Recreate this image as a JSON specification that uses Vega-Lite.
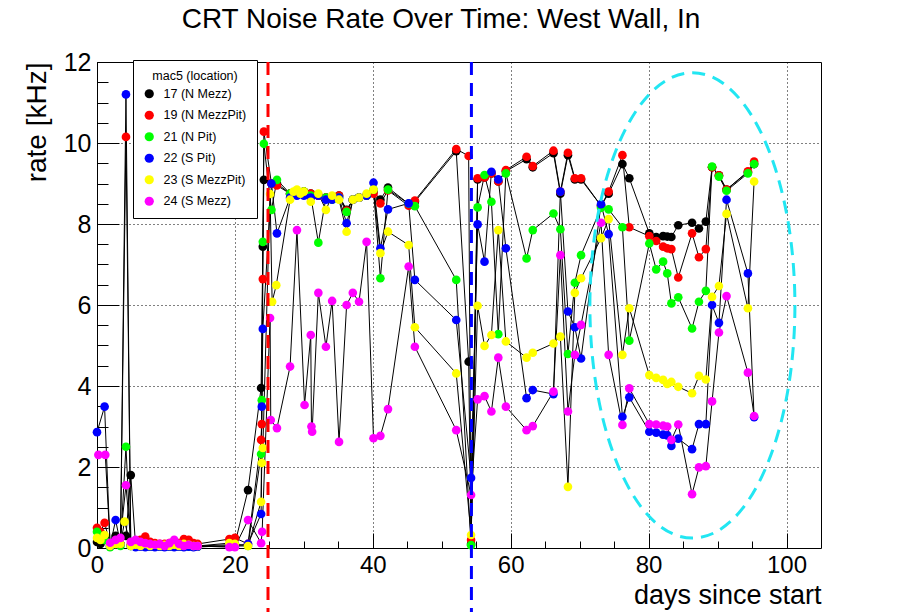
{
"$schema": "https://vega.github.io/schema/vega-lite/v6.json",
"width": 724, "height": 486,
"autosize": {"type": "none"},
"padding": {"left": 97, "top": 62, "right": 81, "bottom": 64},
"background": "white",
"title": {"text": "CRT Noise Rate Over Time: West Wall, In", "font": "Liberation Sans", "fontSize": 28, "fontWeight": "normal", "color": "black", "frame": "group", "anchor": "middle", "dx": -18, "offset": -6, "baseline": "alphabetic"},
"config": {"view": {"stroke": "black", "strokeWidth": 1}, "axis": {"tickColor": "black", "tickWidth": 1}},
"datasets": {
"names": [{"s":17,"mac5":"17 (N Mezz)"},{"s":19,"mac5":"19 (N MezzPit)"},{"s":21,"mac5":"21 (N Pit)"},{"s":22,"mac5":"22 (S Pit)"},{"s":23,"mac5":"23 (S MezzPit)"},{"s":24,"mac5":"24 (S Mezz)"}],
"pts": [
{"d":0,"s":17,"r":0.15},{"d":0.5,"s":17,"r":0.1},{"d":1.1,"s":17,"r":0.2},{"d":1.9,"s":17,"r":0.05},{"d":2.7,"s":17,"r":0.3},{"d":3.4,"s":17,"r":0.1},{"d":4.2,"s":17,"r":0.3},{"d":4.9,"s":17,"r":1.8},{"d":5.6,"s":17,"r":0.05},{"d":6.3,"s":17,"r":0.05},{"d":7.0,"s":17,"r":0.08},{"d":7.7,"s":17,"r":0.05},{"d":8.4,"s":17,"r":0.05},{"d":9.1,"s":17,"r":0.05},{"d":9.8,"s":17,"r":0.03},{"d":10.5,"s":17,"r":0.05},{"d":11.2,"s":17,"r":0.05},{"d":11.9,"s":17,"r":0.05},{"d":12.6,"s":17,"r":0.05},{"d":13.3,"s":17,"r":0.05},{"d":14.0,"s":17,"r":0.05},{"d":14.6,"s":17,"r":0.05},
{"d":19.2,"s":17,"r":0.08},{"d":20.0,"s":17,"r":0.1},{"d":21.9,"s":17,"r":1.43},{"d":23.8,"s":17,"r":3.95},{"d":24.05,"s":17,"r":7.44},{"d":24.2,"s":17,"r":9.09},{"d":25.3,"s":17,"r":9.0},{"d":26.1,"s":17,"r":9.0},{"d":28.0,"s":17,"r":8.75},{"d":29.0,"s":17,"r":8.8},{"d":30.0,"s":17,"r":8.8},{"d":31.0,"s":17,"r":8.75},{"d":32.1,"s":17,"r":8.7},{"d":33.2,"s":17,"r":8.65},{"d":34.1,"s":17,"r":8.65},{"d":35.1,"s":17,"r":8.7},{"d":36.2,"s":17,"r":8.35},{"d":37.1,"s":17,"r":8.6},{"d":38.0,"s":17,"r":8.65},{"d":39.1,"s":17,"r":8.7},{"d":40.1,"s":17,"r":8.8},{"d":41.1,"s":17,"r":8.6},{"d":42.2,"s":17,"r":8.9},{"d":45.2,"s":17,"r":8.5},{"d":46.1,"s":17,"r":8.55},{"d":52.1,"s":17,"r":9.8},{"d":53.9,"s":17,"r":4.6},{"d":54.25,"s":17,"r":0.1},{"d":55.2,"s":17,"r":9.1},{"d":56.2,"s":17,"r":9.15},{"d":57.2,"s":17,"r":9.25},{"d":58.2,"s":17,"r":9.05},{"d":59.3,"s":17,"r":9.3},{"d":62.3,"s":17,"r":9.6},{"d":63.2,"s":17,"r":9.4},{"d":66.2,"s":17,"r":9.75},{"d":67.2,"s":17,"r":8.75},{"d":68.3,"s":17,"r":9.7},{"d":69.3,"s":17,"r":9.1},{"d":70.2,"s":17,"r":9.1},{"d":73.1,"s":17,"r":8.45},{"d":74.2,"s":17,"r":8.75},{"d":76.2,"s":17,"r":9.48},{"d":77.2,"s":17,"r":9.13},{"d":80.1,"s":17,"r":7.77},{"d":81.1,"s":17,"r":7.68},{"d":82.1,"s":17,"r":7.7},{"d":82.7,"s":17,"r":7.69},{"d":83.3,"s":17,"r":7.68},{"d":84.3,"s":17,"r":7.97},{"d":86.3,"s":17,"r":8.03},{"d":87.3,"s":17,"r":7.89},{"d":88.3,"s":17,"r":8.06},{"d":89.2,"s":17,"r":9.4},{"d":90.2,"s":17,"r":9.2},{"d":91.3,"s":17,"r":8.85},{"d":94.4,"s":17,"r":9.28},{"d":95.3,"s":17,"r":9.48},
{"d":0,"s":19,"r":0.5},{"d":0.5,"s":19,"r":0.4},{"d":1.1,"s":19,"r":0.62},{"d":1.9,"s":19,"r":0.1},{"d":2.7,"s":19,"r":0.15},{"d":3.4,"s":19,"r":0.1},{"d":4.2,"s":19,"r":10.15},{"d":4.9,"s":19,"r":0.08},{"d":5.6,"s":19,"r":0.15},{"d":6.3,"s":19,"r":0.2},{"d":7.0,"s":19,"r":0.28},{"d":7.7,"s":19,"r":0.15},{"d":8.4,"s":19,"r":0.12},{"d":9.1,"s":19,"r":0.1},{"d":9.8,"s":19,"r":0.1},{"d":10.5,"s":19,"r":0.12},{"d":11.2,"s":19,"r":0.1},{"d":11.9,"s":19,"r":0.12},{"d":12.6,"s":19,"r":0.22},{"d":13.3,"s":19,"r":0.2},{"d":14.0,"s":19,"r":0.12},{"d":14.6,"s":19,"r":0.1},
{"d":19.2,"s":19,"r":0.22},{"d":20.0,"s":19,"r":0.25},{"d":21.9,"s":19,"r":0.1},{"d":23.8,"s":19,"r":2.67},{"d":23.9,"s":19,"r":3.06},{"d":24.05,"s":19,"r":6.64},{"d":24.2,"s":19,"r":10.28},{"d":25.3,"s":19,"r":9.0},{"d":26.1,"s":19,"r":8.95},{"d":28.0,"s":19,"r":8.75},{"d":29.0,"s":19,"r":8.8},{"d":30.0,"s":19,"r":8.8},{"d":31.0,"s":19,"r":8.75},{"d":32.1,"s":19,"r":8.7},{"d":33.2,"s":19,"r":8.65},{"d":34.1,"s":19,"r":8.65},{"d":35.1,"s":19,"r":8.7},{"d":36.2,"s":19,"r":8.33},{"d":37.1,"s":19,"r":8.6},{"d":38.0,"s":19,"r":8.65},{"d":39.1,"s":19,"r":8.7},{"d":40.1,"s":19,"r":8.75},{"d":41.1,"s":19,"r":8.51},{"d":42.2,"s":19,"r":8.83},{"d":45.2,"s":19,"r":8.45},{"d":46.1,"s":19,"r":8.58},{"d":52.1,"s":19,"r":9.85},{"d":53.9,"s":19,"r":9.68},{"d":54.25,"s":19,"r":0.2},{"d":55.2,"s":19,"r":9.13},{"d":56.2,"s":19,"r":9.15},{"d":57.2,"s":19,"r":9.25},{"d":58.2,"s":19,"r":9.05},{"d":59.3,"s":19,"r":9.33},{"d":62.3,"s":19,"r":9.66},{"d":63.2,"s":19,"r":9.43},{"d":66.2,"s":19,"r":9.81},{"d":67.2,"s":19,"r":8.8},{"d":68.3,"s":19,"r":9.76},{"d":69.3,"s":19,"r":9.13},{"d":70.2,"s":19,"r":9.13},{"d":73.1,"s":19,"r":8.45},{"d":74.2,"s":19,"r":8.8},{"d":76.2,"s":19,"r":9.7},{"d":77.2,"s":19,"r":7.92},{"d":80.1,"s":19,"r":7.7},{"d":81.1,"s":19,"r":7.58},{"d":82.1,"s":19,"r":7.44},{"d":82.7,"s":19,"r":7.4},{"d":83.3,"s":19,"r":7.38},{"d":84.3,"s":19,"r":6.68},{"d":86.3,"s":19,"r":7.77},{"d":87.3,"s":19,"r":7.18},{"d":88.3,"s":19,"r":7.38},{"d":89.2,"s":19,"r":9.4},{"d":90.2,"s":19,"r":9.2},{"d":91.3,"s":19,"r":8.85},{"d":94.4,"s":19,"r":9.3},{"d":95.3,"s":19,"r":9.54},
{"d":0,"s":21,"r":0.4},{"d":0.5,"s":21,"r":0.3},{"d":1.1,"s":21,"r":0.2},{"d":1.9,"s":21,"r":0.02},{"d":2.7,"s":21,"r":0.1},{"d":3.4,"s":21,"r":0.05},{"d":4.2,"s":21,"r":2.5},{"d":4.9,"s":21,"r":0.05},{"d":5.6,"s":21,"r":0.03},{"d":6.3,"s":21,"r":0.05},{"d":7.0,"s":21,"r":0.05},{"d":7.7,"s":21,"r":0.03},{"d":8.4,"s":21,"r":0.05},{"d":9.1,"s":21,"r":0.03},{"d":9.8,"s":21,"r":0.05},{"d":10.5,"s":21,"r":0.03},{"d":11.2,"s":21,"r":0.05},{"d":11.9,"s":21,"r":0.03},{"d":12.6,"s":21,"r":0.05},{"d":13.3,"s":21,"r":0.03},{"d":14.0,"s":21,"r":0.05},{"d":14.6,"s":21,"r":0.03},
{"d":19.2,"s":21,"r":0.05},{"d":20.0,"s":21,"r":0.05},{"d":21.9,"s":21,"r":0.05},{"d":23.8,"s":21,"r":2.32},{"d":23.9,"s":21,"r":3.65},{"d":24.05,"s":21,"r":7.56},{"d":24.2,"s":21,"r":9.98},{"d":25.3,"s":21,"r":8.35},{"d":26.1,"s":21,"r":9.09},{"d":28.0,"s":21,"r":8.75},{"d":29.0,"s":21,"r":8.8},{"d":30.0,"s":21,"r":8.8},{"d":31.0,"s":21,"r":8.7},{"d":32.1,"s":21,"r":7.54},{"d":33.2,"s":21,"r":8.65},{"d":34.1,"s":21,"r":8.6},{"d":35.1,"s":21,"r":8.65},{"d":36.2,"s":21,"r":8.3},{"d":37.1,"s":21,"r":8.6},{"d":38.0,"s":21,"r":8.65},{"d":39.1,"s":21,"r":8.7},{"d":40.1,"s":21,"r":8.85},{"d":41.1,"s":21,"r":6.66},{"d":42.2,"s":21,"r":8.85},{"d":45.2,"s":21,"r":8.5},{"d":46.1,"s":21,"r":8.44},{"d":52.1,"s":21,"r":6.62},{"d":54.25,"s":21,"r":0.07},{"d":55.2,"s":21,"r":8.41},{"d":56.2,"s":21,"r":9.21},{"d":57.2,"s":21,"r":8.55},{"d":58.2,"s":21,"r":5.28},{"d":59.3,"s":21,"r":9.25},{"d":62.3,"s":21,"r":7.15},{"d":63.2,"s":21,"r":7.85},{"d":66.2,"s":21,"r":8.26},{"d":67.2,"s":21,"r":7.87},{"d":68.3,"s":21,"r":4.79},{"d":69.3,"s":21,"r":6.55},{"d":70.2,"s":21,"r":7.23},{"d":73.1,"s":21,"r":8.4},{"d":74.2,"s":21,"r":8.36},{"d":76.2,"s":21,"r":7.92},{"d":77.2,"s":21,"r":5.12},{"d":80.1,"s":21,"r":7.52},{"d":81.1,"s":21,"r":6.88},{"d":82.1,"s":21,"r":7.07},{"d":82.7,"s":21,"r":6.78},{"d":83.3,"s":21,"r":6.04},{"d":84.3,"s":21,"r":6.19},{"d":86.3,"s":21,"r":5.42},{"d":87.3,"s":21,"r":6.08},{"d":88.3,"s":21,"r":6.35},{"d":89.2,"s":21,"r":9.42},{"d":90.2,"s":21,"r":9.17},{"d":91.3,"s":21,"r":8.82},{"d":94.4,"s":21,"r":9.25},{"d":95.3,"s":21,"r":9.48},
{"d":0,"s":22,"r":2.86},{"d":1.1,"s":22,"r":3.49},{"d":1.9,"s":22,"r":0.05},{"d":2.7,"s":22,"r":0.69},{"d":3.4,"s":22,"r":0.1},{"d":4.2,"s":22,"r":11.2},{"d":4.9,"s":22,"r":0.05},{"d":5.6,"s":22,"r":0.02},{"d":6.3,"s":22,"r":0.03},{"d":7.0,"s":22,"r":0.02},{"d":7.7,"s":22,"r":0.03},{"d":8.4,"s":22,"r":0.02},{"d":9.1,"s":22,"r":0.03},{"d":9.8,"s":22,"r":0.02},{"d":10.5,"s":22,"r":0.03},{"d":11.2,"s":22,"r":0.02},{"d":11.9,"s":22,"r":0.03},{"d":12.6,"s":22,"r":0.02},{"d":13.3,"s":22,"r":0.03},{"d":14.0,"s":22,"r":0.02},{"d":14.6,"s":22,"r":0.03},
{"d":19.2,"s":22,"r":0.05},{"d":20.0,"s":22,"r":0.05},{"d":21.9,"s":22,"r":0.1},{"d":23.8,"s":22,"r":0.84},{"d":23.9,"s":22,"r":3.49},{"d":24.05,"s":22,"r":5.41},{"d":25.3,"s":22,"r":9.0},{"d":26.1,"s":22,"r":7.77},{"d":28.0,"s":22,"r":8.65},{"d":29.0,"s":22,"r":8.7},{"d":30.0,"s":22,"r":8.7},{"d":31.0,"s":22,"r":8.65},{"d":32.1,"s":22,"r":8.7},{"d":33.2,"s":22,"r":8.6},{"d":34.1,"s":22,"r":8.6},{"d":35.1,"s":22,"r":8.65},{"d":36.2,"s":22,"r":8.02},{"d":37.1,"s":22,"r":8.6},{"d":38.0,"s":22,"r":8.65},{"d":39.1,"s":22,"r":8.7},{"d":40.1,"s":22,"r":9.02},{"d":41.1,"s":22,"r":7.4},{"d":42.2,"s":22,"r":8.36},{"d":45.2,"s":22,"r":8.51},{"d":46.1,"s":22,"r":6.62},{"d":52.1,"s":22,"r":5.63},{"d":54.25,"s":22,"r":1.73},{"d":55.2,"s":22,"r":7.99},{"d":56.2,"s":22,"r":7.07},{"d":57.2,"s":22,"r":9.29},{"d":58.2,"s":22,"r":9.1},{"d":59.3,"s":22,"r":7.4},{"d":62.3,"s":22,"r":3.7},{"d":63.2,"s":22,"r":3.9},{"d":66.2,"s":22,"r":3.8},{"d":67.2,"s":22,"r":8.8},{"d":68.3,"s":22,"r":5.84},{"d":69.3,"s":22,"r":5.45},{"d":70.2,"s":22,"r":4.68},{"d":73.1,"s":22,"r":8.49},{"d":74.2,"s":22,"r":7.75},{"d":76.2,"s":22,"r":3.24},{"d":77.2,"s":22,"r":3.72},{"d":80.1,"s":22,"r":2.87},{"d":81.1,"s":22,"r":2.85},{"d":82.1,"s":22,"r":2.8},{"d":82.7,"s":22,"r":2.78},{"d":83.3,"s":22,"r":2.52},{"d":84.3,"s":22,"r":2.7},{"d":86.3,"s":22,"r":2.44},{"d":87.3,"s":22,"r":3.06},{"d":88.3,"s":22,"r":3.06},{"d":89.2,"s":22,"r":6.0},{"d":90.2,"s":22,"r":5.56},{"d":91.3,"s":22,"r":8.6},{"d":94.4,"s":22,"r":6.78},{"d":95.3,"s":22,"r":3.23},
{"d":0,"s":23,"r":0.25},{"d":0.5,"s":23,"r":0.2},{"d":1.1,"s":23,"r":0.32},{"d":1.9,"s":23,"r":0.05},{"d":2.7,"s":23,"r":0.1},{"d":3.4,"s":23,"r":0.1},{"d":4.0,"s":23,"r":0.65},{"d":4.9,"s":23,"r":0.05},{"d":5.6,"s":23,"r":0.08},{"d":6.3,"s":23,"r":0.05},{"d":7.0,"s":23,"r":0.1},{"d":7.7,"s":23,"r":0.05},{"d":8.4,"s":23,"r":0.08},{"d":9.1,"s":23,"r":0.05},{"d":9.8,"s":23,"r":0.08},{"d":10.5,"s":23,"r":0.05},{"d":11.2,"s":23,"r":0.08},{"d":11.9,"s":23,"r":0.05},{"d":12.6,"s":23,"r":0.1},{"d":13.3,"s":23,"r":0.08},{"d":14.0,"s":23,"r":0.05},{"d":14.6,"s":23,"r":0.05},
{"d":19.2,"s":23,"r":0.12},{"d":20.0,"s":23,"r":0.1},{"d":21.9,"s":23,"r":0.05},{"d":23.8,"s":23,"r":1.14},{"d":23.9,"s":23,"r":2.1},{"d":24.05,"s":23,"r":2.47},{"d":25.1,"s":23,"r":8.74},{"d":25.4,"s":23,"r":6.08},{"d":26.0,"s":23,"r":6.49},{"d":28.0,"s":23,"r":8.6},{"d":28.5,"s":23,"r":8.8},{"d":29.0,"s":23,"r":8.85},{"d":29.5,"s":23,"r":8.75},{"d":30.0,"s":23,"r":8.8},{"d":31.0,"s":23,"r":8.55},{"d":32.1,"s":23,"r":8.75},{"d":33.2,"s":23,"r":8.35},{"d":34.1,"s":23,"r":8.7},{"d":35.1,"s":23,"r":8.6},{"d":36.2,"s":23,"r":7.81},{"d":37.1,"s":23,"r":8.6},{"d":38.0,"s":23,"r":8.65},{"d":39.1,"s":23,"r":8.75},{"d":40.1,"s":23,"r":8.85},{"d":41.1,"s":23,"r":7.28},{"d":42.2,"s":23,"r":7.81},{"d":45.2,"s":23,"r":7.48},{"d":46.1,"s":23,"r":5.45},{"d":52.1,"s":23,"r":4.31},{"d":54.25,"s":23,"r":0.32},{"d":55.2,"s":23,"r":5.98},{"d":56.2,"s":23,"r":4.99},{"d":57.2,"s":23,"r":5.26},{"d":58.2,"s":23,"r":7.85},{"d":59.3,"s":23,"r":5.1},{"d":62.3,"s":23,"r":4.7},{"d":63.2,"s":23,"r":4.82},{"d":66.2,"s":23,"r":5.05},{"d":67.2,"s":23,"r":5.22},{"d":68.3,"s":23,"r":1.51},{"d":69.3,"s":23,"r":6.3},{"d":70.2,"s":23,"r":6.66},{"d":73.1,"s":23,"r":7.65},{"d":74.2,"s":23,"r":8.12},{"d":76.2,"s":23,"r":4.77},{"d":77.2,"s":23,"r":5.92},{"d":80.1,"s":23,"r":4.27},{"d":81.1,"s":23,"r":4.2},{"d":82.1,"s":23,"r":4.15},{"d":82.7,"s":23,"r":4.05},{"d":83.3,"s":23,"r":4.1},{"d":84.3,"s":23,"r":3.98},{"d":86.3,"s":23,"r":3.82},{"d":87.3,"s":23,"r":4.25},{"d":88.3,"s":23,"r":4.16},{"d":89.2,"s":23,"r":6.2},{"d":90.2,"s":23,"r":6.47},{"d":91.3,"s":23,"r":8.25},{"d":94.4,"s":23,"r":5.92},{"d":95.3,"s":23,"r":9.05},
{"d":0.2,"s":24,"r":2.3},{"d":1.2,"s":24,"r":2.3},{"d":1.9,"s":24,"r":0.13},{"d":2.7,"s":24,"r":0.2},{"d":3.4,"s":24,"r":0.25},{"d":4.2,"s":24,"r":1.55},{"d":4.9,"s":24,"r":0.15},{"d":5.6,"s":24,"r":0.2},{"d":6.3,"s":24,"r":0.15},{"d":7.0,"s":24,"r":0.12},{"d":7.7,"s":24,"r":0.1},{"d":8.4,"s":24,"r":0.08},{"d":9.1,"s":24,"r":0.1},{"d":9.8,"s":24,"r":0.05},{"d":10.5,"s":24,"r":0.12},{"d":11.2,"s":24,"r":0.2},{"d":11.9,"s":24,"r":0.1},{"d":12.6,"s":24,"r":0.05},{"d":13.3,"s":24,"r":0.08},{"d":14.0,"s":24,"r":0.05},{"d":14.6,"s":24,"r":0.05},
{"d":19.2,"s":24,"r":0.02},{"d":20.0,"s":24,"r":0.02},{"d":21.9,"s":24,"r":0.69},{"d":23.8,"s":24,"r":0.12},{"d":23.95,"s":24,"r":0.4},{"d":25.1,"s":24,"r":5.68},{"d":25.2,"s":24,"r":3.16},{"d":26.1,"s":24,"r":2.96},{"d":28.0,"s":24,"r":4.48},{"d":29.0,"s":24,"r":7.85},{"d":30.1,"s":24,"r":3.53},{"d":31.0,"s":24,"r":5.26},{"d":31.1,"s":24,"r":3.0},{"d":31.2,"s":24,"r":2.87},{"d":32.1,"s":24,"r":6.3},{"d":33.2,"s":24,"r":4.97},{"d":34.1,"s":24,"r":6.1},{"d":35.1,"s":24,"r":2.62},{"d":36.2,"s":24,"r":6.0},{"d":37.1,"s":24,"r":6.3},{"d":38.0,"s":24,"r":6.08},{"d":39.1,"s":24,"r":7.56},{"d":40.1,"s":24,"r":2.71},{"d":41.1,"s":24,"r":2.77},{"d":42.2,"s":24,"r":3.43},{"d":45.2,"s":24,"r":6.95},{"d":46.1,"s":24,"r":4.97},{"d":52.1,"s":24,"r":2.91},{"d":54.25,"s":24,"r":1.31},{"d":55.2,"s":24,"r":3.67},{"d":56.2,"s":24,"r":3.75},{"d":57.2,"s":24,"r":3.37},{"d":58.2,"s":24,"r":4.7},{"d":59.3,"s":24,"r":3.49},{"d":62.3,"s":24,"r":2.91},{"d":63.2,"s":24,"r":3.01},{"d":66.2,"s":24,"r":3.86},{"d":67.2,"s":24,"r":7.23},{"d":68.3,"s":24,"r":3.37},{"d":69.3,"s":24,"r":4.77},{"d":70.2,"s":24,"r":5.51},{"d":73.1,"s":24,"r":8.03},{"d":74.2,"s":24,"r":4.77},{"d":76.2,"s":24,"r":3.04},{"d":77.2,"s":24,"r":3.94},{"d":80.1,"s":24,"r":3.06},{"d":81.1,"s":24,"r":3.05},{"d":82.1,"s":24,"r":3.02},{"d":82.7,"s":24,"r":3.0},{"d":83.3,"s":24,"r":2.67},{"d":84.3,"s":24,"r":3.05},{"d":86.3,"s":24,"r":1.33},{"d":87.3,"s":24,"r":1.99},{"d":88.3,"s":24,"r":2.02},{"d":89.2,"s":24,"r":3.62},{"d":90.2,"s":24,"r":5.32},{"d":91.3,"s":24,"r":6.22},{"d":94.4,"s":24,"r":4.33},{"d":95.3,"s":24,"r":3.26}
]
},
"layer": [
{
"data": {"name": "pts"},
"mark": {"type": "line", "color": "black", "strokeWidth": 1, "clip": false},
"encoding": {
"x": {"field": "d", "type": "quantitative", "scale": {"domain": [0, 105], "nice": false, "zero": false},
 "axis": {"orient": "bottom", "values": [0, 20, 40, 60, 80, 100], "ticks": false, "domain": false, "grid": true, "gridDash": [1, 3], "gridColor": "#000000", "gridWidth": 1, "gridOpacity": 1, "labelFont": "Liberation Sans", "labelFontSize": 24, "labelColor": "black", "labelPadding": 5, "labelFlush": false, "labelOverlap": false, "title": "days since start", "titleFont": "Liberation Sans", "titleFontSize": 27, "titleFontWeight": "normal", "titleColor": "black", "titleX": 724, "titleY": 55, "titleAlign": "right", "titleBaseline": "alphabetic"}},
"y": {"field": "r", "type": "quantitative", "scale": {"domain": [0, 12], "nice": false, "zero": false},
 "axis": {"orient": "left", "values": [0, 2, 4, 6, 8, 10, 12], "ticks": false, "domain": false, "grid": true, "gridDash": [1, 3], "gridColor": "#000000", "gridWidth": 1, "gridOpacity": 1, "labelFont": "Liberation Sans", "labelFontSize": 25, "labelColor": "black", "labelPadding": 6, "labelFlush": false, "labelOverlap": false, "title": "rate [kHz]", "titleFont": "Liberation Sans", "titleFontSize": 28, "titleFontWeight": "normal", "titleColor": "black", "titleX": -52, "titleY": 0, "titleAngle": 270, "titleAlign": "right", "titleBaseline": "alphabetic"}},
"detail": {"field": "s", "type": "nominal"}
}
},
{
"data": {"name": "pts"},
"transform": [{"lookup": "s", "from": {"data": {"name": "names"}, "key": "s", "fields": ["mac5"]}}],
"mark": {"type": "point", "filled": true, "size": 75, "opacity": 1, "strokeWidth": 0, "clip": false},
"encoding": {
"x": {"field": "d", "type": "quantitative", "scale": {"domain": [0, 105], "nice": false, "zero": false},
 "axis": {"orient": "bottom", "values": [0, 20, 40, 60, 80, 100], "labels": false, "grid": false, "domain": false, "ticks": true, "tickSize": -15, "title": null}},
"y": {"field": "r", "type": "quantitative", "scale": {"domain": [0, 12], "nice": false, "zero": false},
 "axis": {"orient": "left", "values": [0, 2, 4, 6, 8, 10, 12], "labels": false, "grid": false, "domain": false, "ticks": true, "tickSize": -22, "title": null}},
"color": {"field": "mac5", "type": "nominal",
 "scale": {"domain": ["17 (N Mezz)", "19 (N MezzPit)", "21 (N Pit)", "22 (S Pit)", "23 (S MezzPit)", "24 (S Mezz)"], "range": ["#000000", "#ff0000", "#00ff00", "#0000ff", "#ffff00", "#ff00ff"]},
 "legend": {"orient": "none", "legendX": 36, "legendY": -2, "title": "mac5 (location)", "fillColor": "white", "strokeColor": "black", "padding": 10, "titleFont": "Liberation Sans", "titleFontSize": 12.5, "titleFontWeight": "normal", "titleColor": "black", "titleAnchor": "middle", "titlePadding": 5, "labelFont": "Liberation Sans", "labelFontSize": 12.5, "labelColor": "black", "labelOffset": 8, "symbolType": "circle", "symbolSize": 85, "symbolStrokeWidth": 0, "symbolOpacity": 1, "rowPadding": 8.5, "zindex": 1}}
}
},
{
"data": {"values": [{"day": 24.8}]},
"mark": {"type": "rule", "color": "#ff0000", "strokeWidth": 3, "strokeDash": [13, 8], "clip": false},
"encoding": {
"x": {"field": "day", "type": "quantitative", "scale": {"domain": [0, 105], "nice": false, "zero": false}, "axis": null},
"y": {"datum": 12, "type": "quantitative", "scale": {"domain": [0, 12], "nice": false, "zero": false}, "axis": null},
"y2": {"datum": -1.6}
}
},
{
"data": {"values": [{"day": 54.3}]},
"mark": {"type": "rule", "color": "#0000ff", "strokeWidth": 3, "strokeDash": [13, 8], "clip": false},
"encoding": {
"x": {"field": "day", "type": "quantitative", "scale": {"domain": [0, 105], "nice": false, "zero": false}, "axis": null},
"y": {"datum": 12, "type": "quantitative", "scale": {"domain": [0, 12], "nice": false, "zero": false}, "axis": null},
"y2": {"datum": -1.6}
}
},
{
"data": {"values": [{"day": 86.35, "rate": 5.99}]},
"mark": {"type": "point", "shape": "M-1,0A1,2.27 0 0,1 1,0A1,2.27 0 0,1 -1,0Z", "size": 42025, "filled": false, "color": "#22e6f2", "strokeWidth": 3, "strokeDash": [13, 8], "opacity": 1, "clip": false},
"encoding": {
"x": {"field": "day", "type": "quantitative", "scale": {"domain": [0, 105], "nice": false, "zero": false},
 "axis": {"orient": "bottom", "values": [5, 10, 15, 25, 30, 35, 45, 50, 55, 65, 70, 75, 85, 90, 95], "labels": false, "grid": false, "domain": false, "ticks": true, "tickSize": -7, "title": null}},
"y": {"field": "rate", "type": "quantitative", "scale": {"domain": [0, 12], "nice": false, "zero": false},
 "axis": {"orient": "left", "values": [0.5, 1, 1.5, 2.5, 3, 3.5, 4.5, 5, 5.5, 6.5, 7, 7.5, 8.5, 9, 9.5, 10.5, 11, 11.5], "labels": false, "grid": false, "domain": false, "ticks": true, "tickSize": -11, "title": null}}
}
}
],
"resolve": {"axis": {"x": "independent", "y": "independent"}}
}
